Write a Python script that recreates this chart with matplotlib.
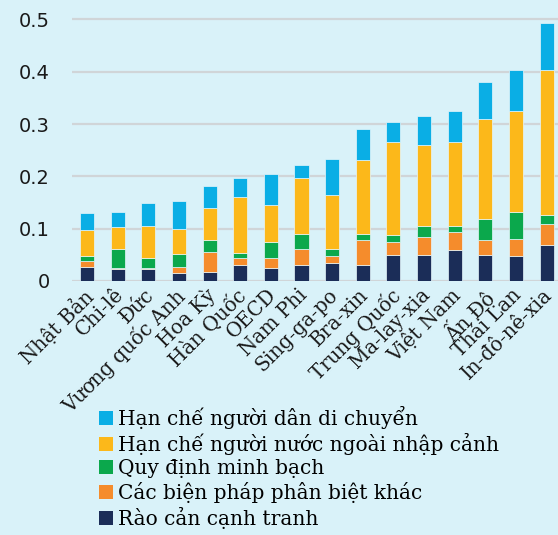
import numpy as np
import matplotlib.pyplot as plt
import matplotlib.transforms as mtransforms
from matplotlib.patches import Patch

countries = ['Nhật Bản', 'Chi-lê', 'Đức', 'Vương quốc Anh', 'Hoa Kỳ', 'Hàn Quốc',
             'OECD', 'Nam Phi', 'Sing-ga-po', 'Bra-xin', 'Trung Quốc', 'Ma-lay-xia',
             'Việt Nam', 'Ấn Độ', 'Thái Lan', 'In-đô-nê-xia']

# stacked from the bottom up
canh_tranh = [0.027, 0.022, 0.022, 0.015, 0.018, 0.031, 0.025, 0.031,
              0.034, 0.031, 0.050, 0.050, 0.059, 0.050, 0.047, 0.068]
phan_biet = [0.011, 0.003, 0.003, 0.012, 0.038, 0.013, 0.018, 0.031,
             0.013, 0.047, 0.025, 0.034, 0.034, 0.028, 0.034, 0.041]
minh_bach = [0.009, 0.037, 0.018, 0.025, 0.022, 0.009, 0.031, 0.028,
             0.015, 0.012, 0.012, 0.021, 0.012, 0.040, 0.050, 0.018]
nhap_canh = [0.050, 0.041, 0.063, 0.047, 0.062, 0.107, 0.072, 0.106,
             0.103, 0.141, 0.178, 0.154, 0.160, 0.191, 0.194, 0.276]
di_chuyen = [0.032, 0.029, 0.044, 0.054, 0.041, 0.037, 0.059, 0.026,
             0.069, 0.059, 0.038, 0.056, 0.060, 0.072, 0.078, 0.090]

series = [
    ('Rào cản cạnh tranh', canh_tranh, '#1b2d58'),
    ('Các biện pháp phân biệt khác', phan_biet, '#f58c2c'),
    ('Quy định minh bạch', minh_bach, '#0ba84c'),
    ('Hạn chế người nước ngoài nhập cảnh', nhap_canh, '#fcb81a'),
    ('Hạn chế người dân di chuyển', di_chuyen, '#0aaee5'),
]

bg = '#d9f2f9'
W, H = 558, 535
fig = plt.figure(figsize=(W / 100, H / 100), dpi=100, facecolor=bg)
ax = fig.add_axes([72 / W, 1 - 281 / H, 1 - 72 / W, 281 / H], facecolor=bg)

x = np.arange(len(countries))
bottom = np.zeros(len(countries))
for name, vals, col in series:
    ax.bar(x, vals, 0.46, bottom=bottom, color=col, edgecolor='#e6f6fb',
           linewidth=0.5, zorder=3)
    bottom += np.array(vals)

ax.set_xlim(-0.49, 15.37)
ax.set_ylim(0, 0.537)
ax.set_yticks([0, 0.1, 0.2, 0.3, 0.4, 0.5])
ax.set_yticklabels(['0', '0.1', '0.2', '0.3', '0.4', '0.5'],
                   fontsize=14, family='DejaVu Sans', color='#1a1a1a')
ax.yaxis.grid(True, color='#d0d5d8', linewidth=1.6, zorder=0)
ax.tick_params(axis='y', length=0, pad=16)
ax.tick_params(axis='x', length=0, pad=3)
ax.set_xticks(x)
ax.set_xticklabels(countries, rotation=45, ha='right', rotation_mode='anchor',
                   fontsize=14.2, family='DejaVu Serif', color='#1a1a1a')
# nudge the slanted labels a little to the left so the last one stays inside
shift = mtransforms.ScaledTranslation(-3 / 72, 0, fig.dpi_scale_trans)
for lbl in ax.get_xticklabels():
    lbl.set_transform(lbl.get_transform() + shift)
for s in ax.spines.values():
    s.set_visible(False)

handles = [Patch(facecolor=col, edgecolor='none') for _, _, col in series][::-1]
labels = [name for name, _, _ in series][::-1]
fig.legend(handles, labels, loc='upper left', bbox_to_anchor=(99 / W, 1 - 406 / H),
           frameon=False, prop={'family': 'DejaVu Serif', 'size': 14.5},
           handlelength=0.68, handleheight=0.68, handletextpad=0.25,
           labelspacing=0.2, borderpad=0, borderaxespad=0)

fig.savefig('out.png', dpi=100, facecolor=bg)
